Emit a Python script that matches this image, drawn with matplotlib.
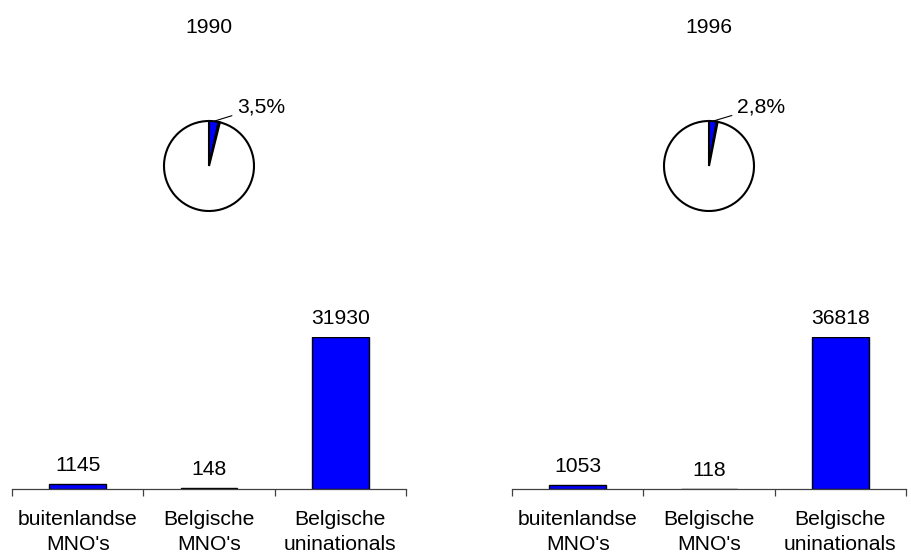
import matplotlib

matplotlib.use("Agg")
import matplotlib.pyplot as plt
import numpy as np

plt.rcParams["font.family"] = ["Liberation Sans", "DejaVu Sans"]

YEARS = ["1990", "1996"]
CATEGORIES = ["buitenlandse\nMNO's", "Belgische\nMNO's", "Belgische\nuninationals"]
COUNTS_1990 = [1145, 148, 31930]
COUNTS_1996 = [1053, 118, 36818]
PIE_LABELS = ["3,5%", "2,8%"]

BLUE = "#0000ff"
FS = 15.2
W, H = 911, 556


def px_axes(fig, x0, y0, x1, y1):
    # pixel box (top-left origin) -> figure axes
    return fig.add_axes([x0 / W, 1 - y1 / H, (x1 - x0) / W, (y1 - y0) / H])


def draw_pie(fig, cx, cy, r, counts, label, year):
    ax = px_axes(fig, cx - r, cy - r, cx + r, cy + r)
    wedges, _ = ax.pie(
        counts,
        colors=[BLUE, "white", "white"],
        startangle=90,
        counterclock=False,
        radius=1.0,
        wedgeprops=dict(edgecolor="black", linewidth=1.5),
    )
    ax.set_xlim(-1, 1)
    ax.set_ylim(-1, 1)
    ax.set_aspect("equal")
    ax.axis("off")

    w = wedges[0]
    ang = np.deg2rad((w.theta1 + w.theta2) / 2)
    ax.annotate(
        label,
        xy=(np.cos(ang), np.sin(ang)),
        xytext=(0.63, 1.32),
        fontsize=FS,
        ha="left",
        va="center",
        annotation_clip=False,
        arrowprops=dict(arrowstyle="-", color="black", linewidth=0.8, shrinkA=2, shrinkB=0),
    )
    ax.text(0, 3.08, year, fontsize=FS, ha="center", va="center", clip_on=False)


def draw_bars(fig, x0, x1, counts):
    ax = px_axes(fig, x0, 337, x1, 489)
    pos = np.arange(len(counts))
    ax.bar(pos, counts, width=0.43, color=BLUE, edgecolor="black", linewidth=1.0)
    ax.set_xlim(-0.5, len(counts) - 0.5)
    ax.set_ylim(0, max(counts))
    for p, v in zip(pos, counts):
        ax.annotate(str(v), xy=(p, v), xytext=(0, 9), textcoords="offset pixels",
                    ha="center", va="bottom", fontsize=FS, annotation_clip=False)
    for side in ["top", "right", "left"]:
        ax.spines[side].set_visible(False)
    ax.spines["bottom"].set_color("#404040")
    ax.spines["bottom"].set_linewidth(0.9)
    ax.set_yticks([])
    ax.set_xticks(np.arange(-0.5, len(counts), 1.0))
    ax.set_xticklabels([])
    ax.tick_params(axis="x", which="major", direction="out", length=5, width=0.9, color="#404040")
    ax.set_xticks(pos, minor=True)
    ax.set_xticklabels(CATEGORIES, minor=True, fontsize=FS, linespacing=1.42)
    ax.tick_params(axis="x", which="minor", length=0, pad=15)


fig = plt.figure(figsize=(W / 100, H / 100), dpi=100)

draw_pie(fig, 209, 166, 45, COUNTS_1990, PIE_LABELS[0], YEARS[0])
draw_pie(fig, 709, 166, 45, COUNTS_1996, PIE_LABELS[1], YEARS[1])
draw_bars(fig, 12, 406, COUNTS_1990)
draw_bars(fig, 512, 906, COUNTS_1996)

fig.savefig("out.png", dpi=100)
